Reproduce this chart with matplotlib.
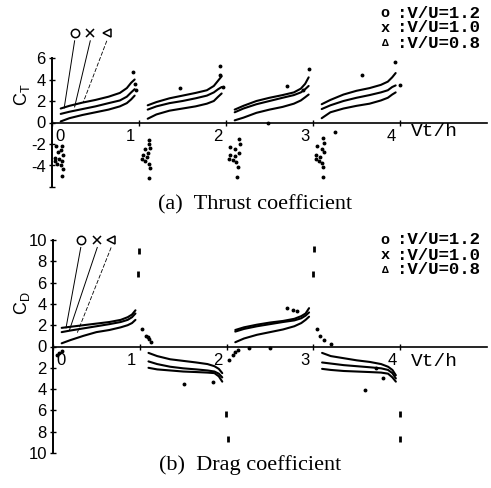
import matplotlib
matplotlib.use("Agg")
import matplotlib.pyplot as plt
import matplotlib.transforms as mtrans
import numpy as np

# ---------------- data ----------------
cycles = [0, 1, 2, 3]
phase = [0.10, 0.20, 0.35, 0.50, 0.65, 0.78, 0.86, 0.91, 0.95]

# Thrust coefficient, one row per cycle
ct_12 = [[1.30, 1.55, 1.85, 2.10, 2.40, 2.75, 3.20, 3.70, 4.00],
         [1.60, 1.90, 2.25, 2.50, 2.75, 3.00, 3.40, 3.90, 4.30],
         [1.20, 1.55, 2.00, 2.30, 2.55, 2.80, 3.15, 3.60, 4.20],
         [1.70, 2.10, 2.60, 2.95, 3.20, 3.50, 3.80, 4.20, 4.60]]
ct_10 = [[0.80, 1.00, 1.25, 1.50, 1.80, 2.05, 2.40, 2.80, 3.10],
         [1.20, 1.50, 1.80, 2.00, 2.25, 2.50, 2.80, 3.10, 3.30],
         [0.95, 1.30, 1.70, 2.00, 2.30, 2.55, 2.80, 3.10, 3.40],
         [1.25, 1.60, 2.00, 2.30, 2.55, 2.80, 3.00, 3.30, 3.45]]
ct_08 = [[0.10, 0.40, 0.70, 0.95, 1.20, 1.50, 1.80, 2.15, 2.50],
         [0.35, 0.75, 1.10, 1.30, 1.50, 1.75, 2.00, 2.40, 2.70],
         [0.20, 0.45, 0.90, 1.20, 1.45, 1.75, 2.05, 2.35, 2.60],
         [0.40, 0.95, 1.30, 1.55, 1.75, 2.05, 2.30, 2.60, 2.80]]
ct_dots_x = [0.93, 0.97, 0.95, 1.47, 1.93, 1.93, 1.97, 2.70, 2.95, 2.88, 2.48,
             3.56, 3.94, 4.00, 3.25,
             0.05, 0.12, 0.07, 0.10, 0.13, 0.04, 0.08, 0.11, 0.06, 0.10, 0.13, 0.12, 0.03,
             1.12, 1.12, 1.13, 1.07, 1.10, 1.05, 1.09, 1.03, 1.07, 1.11, 1.13, 1.12,
             2.15, 2.16, 2.05, 2.10, 2.15, 2.05, 2.10, 2.04, 2.08, 2.12, 2.14, 2.13,
             3.12, 3.13, 3.05, 3.10, 3.13, 3.04, 3.08, 3.03, 3.07, 3.10, 3.12, 3.11]
ct_dots_y = [4.70, 3.00, 3.60, 3.20, 5.30, 4.40, 3.30, 3.40, 5.00, 3.00, -0.05,
             4.40, 5.60, 3.45, -0.85,
             -2.2, -2.2, -2.7, -2.6, -3.0, -3.3, -3.4, -3.6, -3.9, -4.0, -4.3, -5.0, -3.6,
             -1.6, -2.0, -2.4, -2.5, -2.8, -3.0, -3.2, -3.4, -3.6, -3.9, -4.2, -5.2,
             -1.5, -2.0, -2.3, -2.5, -2.8, -3.0, -3.1, -3.4, -3.5, -3.7, -4.1, -5.1,
             -1.4, -1.9, -2.2, -2.5, -2.7, -3.0, -3.2, -3.4, -3.6, -3.8, -4.1, -5.1]

# Drag coefficient, one row per cycle
cd_12 = [[1.75, 1.85, 2.00, 2.15, 2.30, 2.50, 2.75, 3.00, 3.40],
         [-0.60, -0.90, -1.20, -1.35, -1.50, -1.65, -1.85, -2.10, -2.50],
         [1.55, 1.80, 2.05, 2.25, 2.40, 2.60, 2.85, 3.10, 3.60],
         [-0.60, -0.90, -1.10, -1.30, -1.45, -1.65, -1.90, -2.20, -2.70]]
cd_10 = [[1.35, 1.50, 1.70, 1.90, 2.10, 2.30, 2.50, 2.75, 3.10],
         [-1.40, -1.65, -1.90, -2.05, -2.15, -2.25, -2.35, -2.55, -2.90],
         [1.40, 1.65, 1.90, 2.10, 2.30, 2.45, 2.65, 2.90, 3.20],
         [-1.50, -1.60, -1.75, -1.85, -1.95, -2.05, -2.20, -2.50, -3.00]]
cd_08 = [[0.30, 0.60, 1.00, 1.35, 1.55, 1.80, 2.00, 2.20, 2.50],
         [-2.00, -2.15, -2.25, -2.35, -2.40, -2.45, -2.50, -2.80, -3.30],
         [0.40, 0.75, 1.10, 1.35, 1.60, 1.90, 2.20, 2.50, 2.80],
         [-2.10, -2.20, -2.30, -2.35, -2.40, -2.45, -2.55, -2.90, -3.30]]
cd_dots_x = [1.03, 1.07, 1.09, 1.11, 1.13, 1.51, 1.84, 2.03, 2.07, 2.10, 2.13,
             2.70, 2.77, 2.81, 3.04, 3.08, 3.12, 3.20, 3.60, 3.80, 3.72,
             0.05, 0.07, 0.10, 2.26, 2.50]
cd_dots_y = [1.60, 1.00, 0.85, 0.70, 0.45, -3.50, -3.30, -1.27, -0.80, -0.55, -0.35,
             3.60, 3.40, 3.30, 1.60, 1.00, 0.65, 0.25, -4.10, -3.00, -2.00,
             -0.80, -0.60, -0.40, -0.10, -0.10]
cd_spike_x = [0.99, 0.98, 1.99, 2.02, 3.01, 2.99, 4.00, 4.00]
cd_spike_y = [9.0, 6.8, -6.3, -8.7, 9.2, 6.8, -6.3, -8.7]

series_labels = [":V/U=1.2", ":V/U=1.0", ":V/U=0.8"]
series_syms = ["o", "x", "\u0394"]
x_ticks = [0, 1, 2, 3, 4]
ct_yticks = [-6, -4, -2, 0, 2, 4, 6]
ct_yticklabels = ["", "-4", "-2", "0", "2", "4", "6"]
cd_yticks = [-10, -8, -6, -4, -2, 0, 2, 4, 6, 8, 10]
cd_yticklabels = ["10", "8", "6", "4", "2", "0", "2", "4", "6", "8", "10"]

# pointer lines from symbol to curve (symbol position, curve end)
ct_ptr = [((0.26, 8.3), (0.14, 1.35)), ((0.44, 8.3), (0.26, 1.45)), ((0.63, 8.3), (0.36, 1.90))]
cd_ptr = [((0.32, 10.0), (0.15, 1.75)), ((0.51, 10.0), (0.19, 1.55)), ((0.67, 10.0), (0.28, 1.30))]

# ---------------- figure ----------------
W, H = 491, 488
fig = plt.figure(figsize=(W / 100, H / 100), dpi=100)
mono = ["Liberation Mono", "DejaVu Sans Mono"]
serif = ["Liberation Serif", "DejaVu Serif"]
sans = ["Liberation Sans", "DejaVu Sans"]

ax1 = fig.add_axes([52 / W, 1 - 187 / H, 435 / W, 129 / H])
ax2 = fig.add_axes([53 / W, 1 - 453 / H, 434 / W, 213 / H])


def style_axis(ax, yticks, yticklabels, ylim):
    ax.set_xlim(0, 5.0)
    ax.set_ylim(*ylim)
    for s in ("top", "right"):
        ax.spines[s].set_visible(False)
    ax.spines["bottom"].set_position(("data", 0))
    ax.spines["bottom"].set_linewidth(1.2)
    ax.spines["left"].set_linewidth(1.4)
    ax.set_xticks(x_ticks)
    ax.set_xticklabels([str(t) for t in x_ticks], family=sans, fontsize=12)
    ax.set_yticks(yticks)
    ax.set_yticklabels(yticklabels, family=sans, fontsize=12)
    ax.tick_params(axis="both", direction="inout", length=5, width=1.0, pad=2)
    ax.patch.set_visible(False)
    for lab in ax.get_xticklabels():
        dx = 6 / 72 if lab.get_text() == "0" else -6 / 72
        lab.set_transform(lab.get_transform() + mtrans.ScaledTranslation(dx, 0, fig.dpi_scale_trans))


def draw_curves(ax, curves):
    for c in cycles:
        xs = [c + p for p in phase]
        for data in curves:
            ax.plot(xs, data[c], color="black", lw=1.5, solid_capstyle="round")


style_axis(ax1, ct_yticks, ct_yticklabels, (-6.0, 6.0))
style_axis(ax2, cd_yticks, cd_yticklabels, (-10.0, 10.0))

draw_curves(ax1, [ct_12, ct_10, ct_08])
ax1.plot(ct_dots_x, ct_dots_y, ls="none", marker="o", ms=1.8, color="black")
draw_curves(ax2, [cd_12, cd_10, cd_08])
ax2.plot(cd_dots_x, cd_dots_y, ls="none", marker="o", ms=1.8, color="black")
ax2.plot(cd_spike_x, cd_spike_y, ls="none", marker="|", ms=5, mew=2.0, color="black")

ptr_styles = [dict(ls="-", lw=0.7), dict(ls="-", lw=0.7), dict(ls=(0, (5, 2)), lw=0.6)]
ptr_markers = [dict(marker="o", mfc="none"), dict(marker="x"), dict(marker="<", mfc="none")]
for ax, ptrs in ((ax1, ct_ptr), (ax2, cd_ptr)):
    for (p0, p1), st, mk in zip(ptrs, ptr_styles, ptr_markers):
        ax.plot([p0[0], p1[0]], [p0[1] - 0.7, p1[1]], color="black", clip_on=False, **st)
        ax.plot([p0[0]], [p0[1]], color="black", ms=6, mew=1.1, clip_on=False, ls="none", **mk)

# axis labels
fig.text(22 / W, 1 - 95 / H, r"$\mathregular{C_T}$", rotation=90, ha="center", va="center", fontsize=13, family=sans)
fig.text(22 / W, 1 - 303 / H, r"$\mathregular{C_D}$", rotation=90, ha="center", va="center", fontsize=13, family=sans)
fig.text(411 / W, 1 - 131 / H, "Vt/h", ha="left", va="center", fontsize=14, family=mono)
fig.text(411 / W, 1 - 361 / H, "Vt/h", ha="left", va="center", fontsize=14, family=mono)

# legends
for y0 in (13, 240):
    for i, (sym, lab) in enumerate(zip(series_syms, series_labels)):
        y = 1 - (y0 + 15 * i) / H
        fig.text(385 / W, y, sym, ha="center", va="center", fontsize=11 if i < 2 else 8,
                 family=mono, fontweight="bold")
        fig.text(397 / W, y, lab, ha="left", va="center", fontsize=12.5, family=mono, fontweight="bold")

# captions
fig.text(255 / W, 1 - 205 / H, "(a)  Thrust coefficient", ha="center", va="center", fontsize=16, family=serif)
fig.text(250 / W, 1 - 465 / H, "(b)  Drag coefficient", ha="center", va="center", fontsize=16, family=serif)

fig.savefig("out.png", dpi=100)
